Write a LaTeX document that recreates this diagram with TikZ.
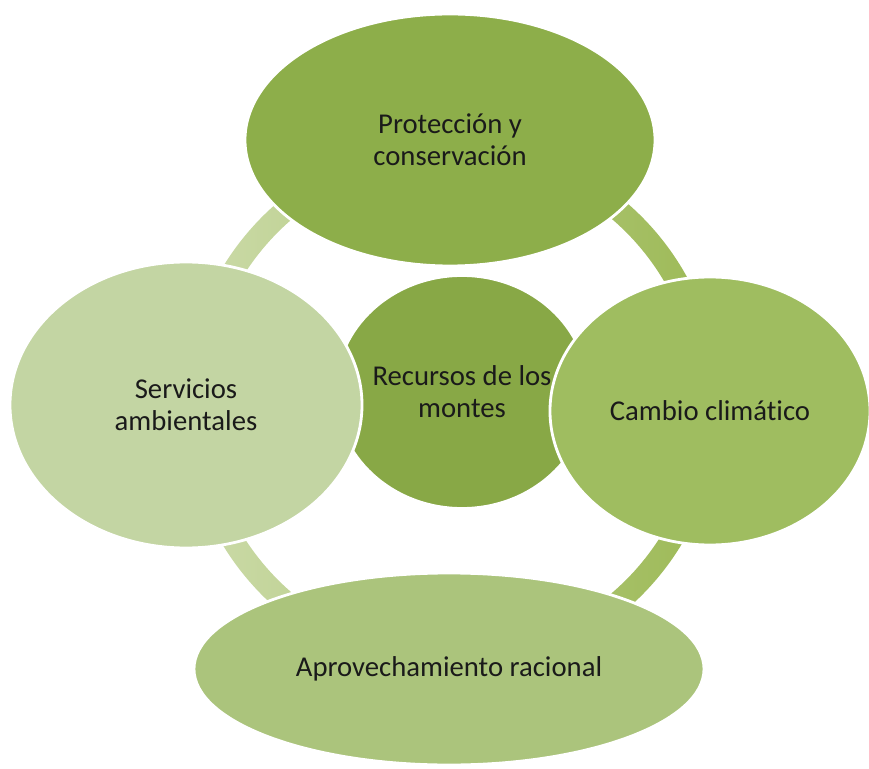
\documentclass[tikz,border=0pt]{standalone}
\usepackage{fontspec}
\setmainfont{Carlito}[Ligatures=NoCommon]
\usepackage{xcolor}
\usepackage{tikz}
\usetikzlibrary{shapes.geometric}
\definecolor{ringlight}{HTML}{CCDBAA}
\definecolor{ringdark}{HTML}{9CB955}
\definecolor{topgreen}{HTML}{8DAE4A}
\definecolor{midgreen}{HTML}{88A846}
\definecolor{leftgreen}{HTML}{C3D5A3}
\definecolor{rightgreen}{HTML}{9FBD60}
\definecolor{botgreen}{HTML}{ABC47C}
\definecolor{ink}{HTML}{1A1A1A}
\tikzset{
  blob/.style={ellipse, draw=white, line width=2.4pt, inner sep=0pt,
    align=center, text=ink, font=\fontsize{24.5}{27.5}\selectfont},
  ring/.style={even odd rule, shading angle=70,
    left color=ringlight, right color=ringdark}
}

\begin{document}
\begin{tikzpicture}[x=0.03cm, y=-0.03cm]
  \useasboundingbox (0,0) rectangle (869,769);
  \coordinate (hub) at (452,406);

  \shade[ring] (hub) circle[radius=8.04cm] (hub) circle[radius=7.38cm];

  \node[blob, fill=midgreen, minimum width=7.41cm, minimum height=6.99cm]
    (recursos) at (462,392) {Recursos de los\\montes};
  \node[blob, fill=topgreen, minimum width=12.3cm, minimum height=7.56cm]
    (proteccion) at (450,140) {Protección y\\conservación};
  \node[blob, fill=leftgreen, minimum width=10.56cm, minimum height=8.58cm]
    (servicios) at (186,405) {Servicios\\ambientales};
  \node[blob, fill=rightgreen, minimum width=9.6cm, minimum height=8.04cm]
    (cambio) at (710,411) {Cambio climático};
  \node[blob, fill=botgreen, minimum width=15.3cm, minimum height=5.76cm]
    (aprovechamiento) at (449,669) {Aprovechamiento racional};
\end{tikzpicture}
\end{document}
